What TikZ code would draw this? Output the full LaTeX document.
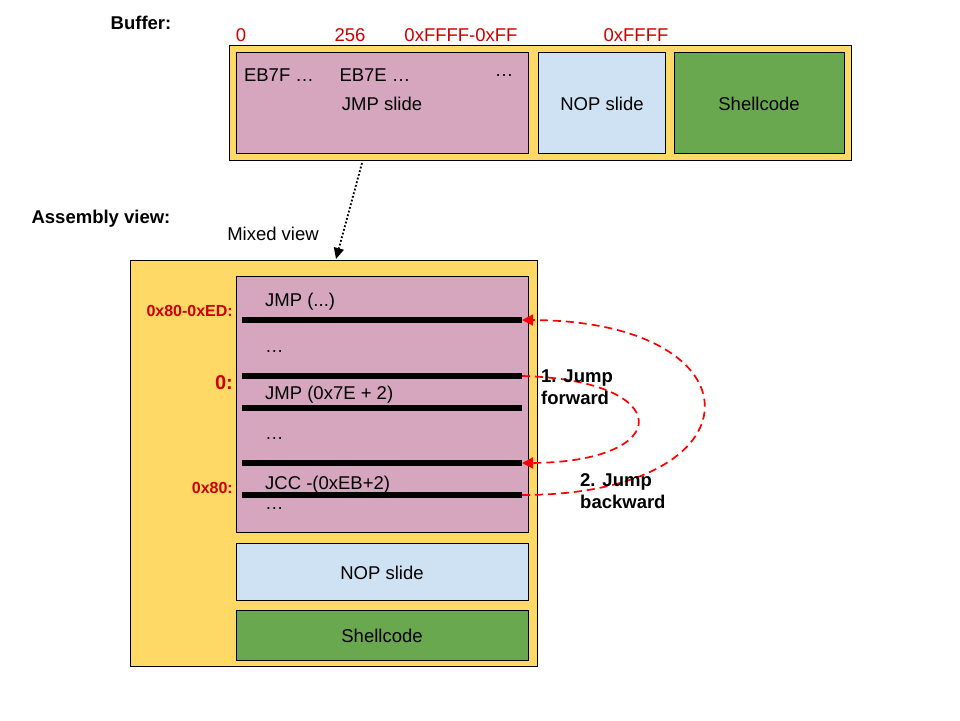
\documentclass[tikz,border=0pt]{standalone}
\usepackage{fontspec}
\setmainfont{Liberation Sans}
\usetikzlibrary{arrows.meta}
\definecolor{yel}{HTML}{FFD966}
\definecolor{pnk}{HTML}{D5A6BD}
\definecolor{lblu}{HTML}{CFE2F3}
\definecolor{grn}{HTML}{6AA84F}
\definecolor{dred}{HTML}{CC0000}
\definecolor{ared}{HTML}{FF0000}
\tikzset{
  txt/.style={inner sep=0pt, font=\fontsize{18.5}{22}\selectfont},
  btxt/.style={inner sep=0pt, font=\fontsize{18.5}{22}\selectfont\bfseries},
  rnum/.style={txt, text=dred},
  rlab/.style={inner sep=0pt, anchor=east, text=dred, font=\fontsize{16}{19}\selectfont\bfseries},
  box/.style={draw=black, line width=1pt},
  sep/.style={line width=5.5pt, black},
  jumparrow/.style={draw=ared, line width=1.7pt, dash pattern=on 8pt off 5pt, -{Triangle[length=11pt,width=11pt]}},
}
\begin{document}
\begin{tikzpicture}[x=1pt,y=-1pt]
\useasboundingbox (0,0) rectangle (960,720);
\fill[white] (0,0) rectangle (960,720);

% ---------- Buffer ----------
\node[btxt] (buflab) at (141,23) {Buffer:};
\node[rnum] (n0) at (241,35) {0};
\node[rnum] (n256) at (350,35) {256};
\node[rnum] (nff) at (461,35) {0xFFFF-0xFF};
\node[rnum] (nffff) at (636,35) {0xFFFF};

\draw[box, fill=yel] (229,45) rectangle (851,160);
\coordinate (bufouter) at (362,163);
\draw[box, fill=pnk] (236,52) rectangle (528,153);
\draw[box, fill=lblu] (538,52) rectangle (665,153);
\draw[box, fill=grn] (674,52) rectangle (844,153);
\node[txt] (eb7f) at (279,75) {EB7F …};
\node[txt] (eb7e) at (375,75) {EB7E …};
\node[txt] (dots0) at (504,76) {…};
\node[txt] (jmpslide) at (382,104) {JMP slide};
\node[txt] (nopslide) at (602,104) {NOP slide};
\node[txt] (shell) at (759,104) {Shellcode};

% ---------- Assembly view ----------
\node[btxt] (asmlab) at (101,219) {Assembly view:};
\node[txt] (mixed) at (273,234) {Mixed view};

\draw[box, fill=yel] (130,260) rectangle (537,666);
\coordinate (asmtop) at (336,259);
\draw[box, fill=pnk] (236,276) rectangle (528,532);
\draw[box, fill=lblu] (236,543) rectangle (528,600);
\draw[box, fill=grn] (236,610) rectangle (528,660);
\node[txt] (nop2) at (382,573) {NOP slide};
\node[txt] (shell2) at (382,636) {Shellcode};

% separator lines
\coordinate (s1a) at (242,320); \coordinate (s1b) at (522,320);
\coordinate (s2a) at (242,376); \coordinate (s2b) at (522,376);
\coordinate (s3a) at (242,408); \coordinate (s3b) at (522,408);
\coordinate (s4a) at (242,463); \coordinate (s4b) at (522,463);
\coordinate (s5a) at (242,495); \coordinate (s5b) at (522,495);
\draw[sep] (s1a) -- (s1b);
\draw[sep] (s2a) -- (s2b);
\draw[sep] (s3a) -- (s3b);
\draw[sep] (s4a) -- (s4b);
\draw[sep] (s5a) -- (s5b);

\node[txt, anchor=west] (i1) at (265,302) {JMP (...)};
\node[txt, anchor=west] (d1) at (265,352) {…};
\node[txt, anchor=west] (i2) at (265,395) {JMP (0x7E + 2)};
\node[txt, anchor=west] (d2) at (265,439) {…};
\node[txt, anchor=west] (i3) at (265,485) {JCC -(0xEB+2)};
\node[txt, anchor=west] (d3) at (265,509) {…};

\node[rlab] (l1) at (233,311) {0x80-0xED:};
\node[rlab, font=\fontsize{20}{24}\selectfont\bfseries] (l2) at (233,383) {0:};
\node[rlab] (l3) at (233,488) {0x80:};

% dotted connector
\draw[line width=1.8pt, dotted, -{Triangle[length=11pt,width=10pt]}] (bufouter) -- (asmtop);

% jumps
\draw[jumparrow] (s2b) .. controls (676,380) and (676,462) .. (s4b);
\draw[jumparrow] (s5b) .. controls (764,495) and (764,321) .. (s1b);

\node[btxt, anchor=west, align=left] (j1) at (541,387) {1. Jump\\forward};
\node[btxt, anchor=west, align=left] (j2) at (580,491) {2. Jump\\backward};
\end{tikzpicture}
\end{document}
